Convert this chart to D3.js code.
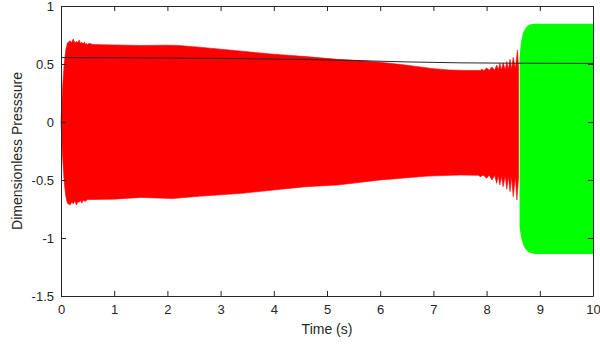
<!DOCTYPE html>
<html>
<head>
<meta charset="utf-8">
<script src="https://cdn.jsdelivr.net/npm/d3@7"></script>
<style>
  html, body { margin: 0; padding: 0; background: #fff; }
  svg { display: block; }
  text { font-family: "Liberation Sans", Arial, sans-serif; fill: #262626; }
</style>
</head>
<body>
<svg id="chart" width="600" height="346"></svg>
<script>
// Envelope of the pressure oscillation before the switch (red trace)
const redUpperT = [0, 0.03, 0.06, 0.09, 0.12, 0.17, 0.2, 0.23, 0.26, 0.295, 0.32, 0.34, 0.37, 0.39, 0.42, 0.44, 0.46, 0.48, 0.5, 0.53,
  0.6, 1.0, 1.5, 2.0, 2.2, 2.6, 3.0, 3.4, 4.0, 4.6, 5.2, 5.6, 6.0, 6.4, 6.75, 7.0, 7.3, 7.6, 7.88,
  7.91, 7.95, 8.0, 8.05, 8.1, 8.15, 8.19, 8.22, 8.25, 8.28, 8.31, 8.35, 8.38, 8.41, 8.44, 8.47, 8.5, 8.54, 8.58, 8.6];
const redUpperV = [0, 0.3, 0.5, 0.62, 0.68, 0.70, 0.685, 0.716, 0.68, 0.696, 0.68, 0.707, 0.675, 0.687, 0.672, 0.69, 0.668, 0.678, 0.668, 0.678,
  0.668, 0.664, 0.66, 0.662, 0.66, 0.645, 0.628, 0.61, 0.584, 0.564, 0.54, 0.53, 0.515, 0.495, 0.475, 0.46, 0.448, 0.445, 0.445,
  0.454, 0.445, 0.466, 0.446, 0.474, 0.447, 0.491, 0.448, 0.506, 0.449, 0.511, 0.45, 0.52, 0.452, 0.54, 0.455, 0.558, 0.46, 0.62, 0.47];
const redLowerT = [0, 0.03, 0.06, 0.09, 0.12, 0.17, 0.2, 0.23, 0.26, 0.29, 0.32, 0.34, 0.37, 0.39, 0.42, 0.45, 0.5,
  0.6, 1.0, 1.5, 2.1, 2.6, 3.4, 4.0, 4.6, 5.2, 6.0, 6.9, 7.5, 7.85,
  7.88, 7.94, 8.0, 8.05, 8.1, 8.15, 8.19, 8.22, 8.25, 8.28, 8.31, 8.35, 8.38, 8.41, 8.44, 8.47, 8.5, 8.54, 8.57, 8.6];
const redLowerV = [0, -0.3, -0.52, -0.64, -0.7, -0.716, -0.69, -0.705, -0.68, -0.716, -0.685, -0.693, -0.675, -0.7, -0.672, -0.686, -0.668,
  -0.668, -0.665, -0.65, -0.66, -0.64, -0.615, -0.586, -0.558, -0.543, -0.5, -0.466, -0.457, -0.46,
  -0.471, -0.458, -0.485, -0.458, -0.5, -0.46, -0.528, -0.462, -0.543, -0.463, -0.558, -0.465, -0.58, -0.468, -0.6, -0.47, -0.644, -0.475, -0.672, -0.48];

// Envelope of the oscillation after the switch (green trace)
const greenT     = [8.62, 8.64, 8.67, 8.71, 8.76, 8.83, 8.92, 10];
const greenUpper = [0.55, 0.66, 0.74, 0.79, 0.825, 0.842, 0.848, 0.848];
const greenLower = [-0.9, -0.97, -1.03, -1.08, -1.11, -1.13, -1.138, -1.138];

// Mean pressure level (black line)
const meanT = [0, 1.5, 3, 4.5, 5.5, 6.5, 7.5, 8.5, 10];
const meanV = [0.555, 0.553, 0.548, 0.54, 0.53, 0.518, 0.51, 0.507, 0.505];

const xTicks = [0, 1, 2, 3, 4, 5, 6, 7, 8, 9, 10];
const yTicks = [-1.5, -1, -0.5, 0, 0.5, 1];

const plotLeft = 61, plotRight = 593, plotTop = 6, plotBottom = 296;
const svg = d3.select("#chart");
const x = d3.scaleLinear().domain([0, 10]).range([plotLeft, plotRight]);
const y = d3.scaleLinear().domain([-1.5, 1]).range([plotBottom, plotTop]);

const plot = svg.append("g");
const toPts = (ts, vs) => ts.map((t, i) => [t, vs[i]]);
const line = d3.line().x(d => x(d[0])).y(d => y(d[1]));

// red band: upper envelope forward, lower envelope back
const redPoly = toPts(redUpperT, redUpperV).concat(toPts(redLowerT, redLowerV).reverse());
plot.append("path")
  .attr("d", line(redPoly) + "Z")
  .attr("fill", "#ff0000")
  .attr("stroke", "#ff0000")
  .attr("stroke-width", 0.6)
  .attr("stroke-linejoin", "round");

// green band
const greenArea = d3.area().x(d => x(d[0])).y0(d => y(d[2])).y1(d => y(d[1])).curve(d3.curveMonotoneX);
plot.append("path")
  .datum(greenT.map((t, i) => [t, greenUpper[i], greenLower[i]]))
  .attr("d", greenArea)
  .attr("fill", "#00ff00");

// mean line
plot.append("path")
  .datum(toPts(meanT, meanV))
  .attr("d", line)
  .attr("fill", "none")
  .attr("stroke", "#262626")
  .attr("stroke-width", 1);

// axes box with inward ticks on all sides
const axisColor = "#262626";
const fmt = d => String(d);
const gx = svg.append("g").attr("transform", `translate(0,${plotBottom})`)
  .call(d3.axisBottom(x).tickValues(xTicks).tickFormat(fmt).tickSizeInner(-5).tickSizeOuter(0).tickPadding(9));
const gxTop = svg.append("g").attr("transform", `translate(0,${plotTop})`)
  .call(d3.axisTop(x).tickValues(xTicks).tickFormat("").tickSizeInner(-5).tickSizeOuter(0));
const gy = svg.append("g").attr("transform", `translate(${plotLeft},0)`)
  .call(d3.axisLeft(y).tickValues(yTicks).tickFormat(fmt).tickSizeInner(-5).tickSizeOuter(0).tickPadding(7));
const gyRight = svg.append("g").attr("transform", `translate(${plotRight},0)`)
  .call(d3.axisRight(y).tickValues(yTicks).tickFormat("").tickSizeInner(-5).tickSizeOuter(0));

[gx, gxTop, gy, gyRight].forEach(g => {
  g.selectAll("path.domain").attr("stroke", axisColor).attr("stroke-width", 1);
  g.selectAll(".tick line").attr("stroke", axisColor).attr("stroke-width", 1);
  g.selectAll("text").attr("font-size", 13).attr("fill", axisColor)
    .attr("font-family", "'Liberation Sans', Arial, sans-serif");
});

svg.append("text")
  .attr("x", (plotLeft + plotRight) / 2).attr("y", 334)
  .attr("text-anchor", "middle").attr("font-size", 14)
  .text("Time (s)");

svg.append("text")
  .attr("transform", `translate(22,${(plotTop + plotBottom) / 2}) rotate(-90)`)
  .attr("text-anchor", "middle").attr("font-size", 14)
  .text("Dimensionless Presssure");
</script>
</body>
</html>
